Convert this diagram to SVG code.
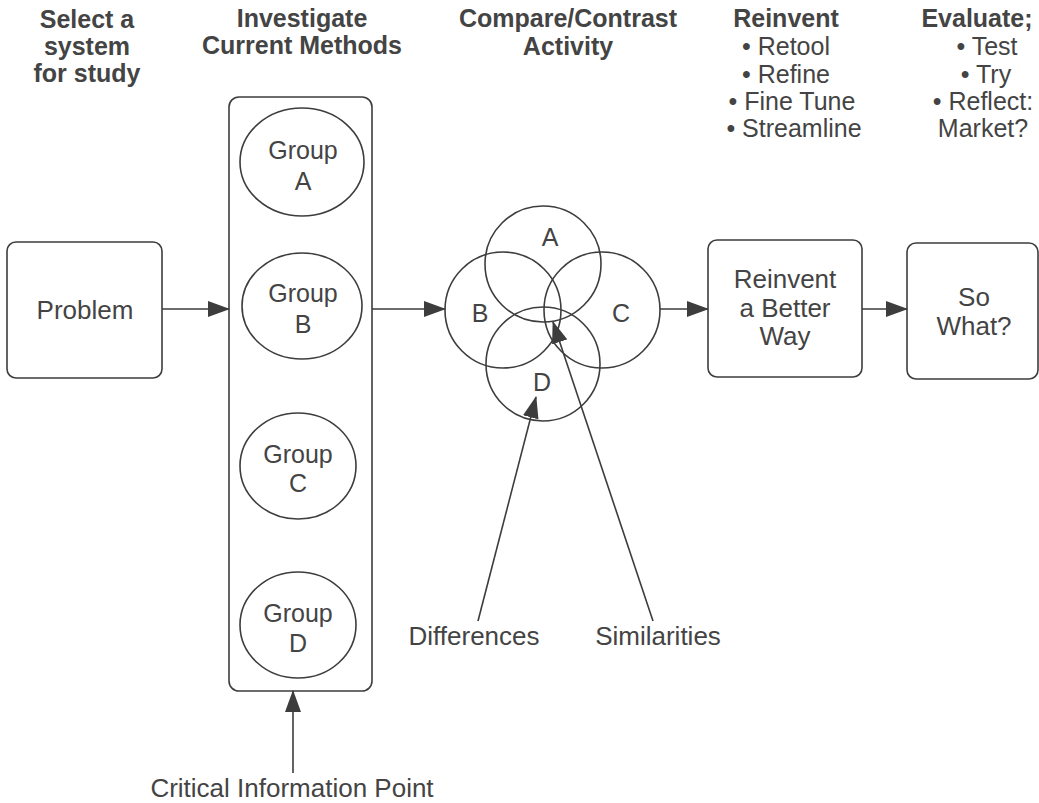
<svg xmlns="http://www.w3.org/2000/svg" width="1039" height="803" viewBox="0 0 1039 803">
<style>
.hd{font-family:"Liberation Sans",Arial,sans-serif;font-size:25px;font-weight:bold;fill:#444444;text-anchor:middle}
.ls{font-family:"Liberation Sans",Arial,sans-serif;font-size:25px;fill:#444444;text-anchor:middle}
.tx{font-family:"Liberation Sans",Arial,sans-serif;font-size:26px;fill:#444444;text-anchor:middle}
.gt{font-family:"Liberation Sans",Arial,sans-serif;font-size:25px;fill:#444444;text-anchor:middle}
.sh{fill:none;stroke:#3d3d3d;stroke-width:1.6}
.ln{fill:none;stroke:#3d3d3d;stroke-width:1.6}
</style>
<defs>
<marker id="ah" markerUnits="userSpaceOnUse" markerWidth="22" markerHeight="16" refX="21" refY="8" orient="auto">
<path d="M0,0 L22,8 L0,16 Z" fill="#3d3d3d"/>
</marker>
</defs>
<rect width="1039" height="803" fill="#ffffff"/>

<g id="headers">
<text class="hd" x="87" y="28">Select a</text>
<text class="hd" x="87" y="55">system</text>
<text class="hd" x="87" y="82">for study</text>
<text class="hd" x="302" y="27">Investigate</text>
<text class="hd" x="302" y="54">Current Methods</text>
<text class="hd" x="568" y="27">Compare/Contrast</text>
<text class="hd" x="568" y="55">Activity</text>
<text class="hd" x="786" y="27">Reinvent</text>
<text class="ls" x="786" y="55">• Retool</text>
<text class="ls" x="786" y="83">• Refine</text>
<text class="ls" x="792" y="110">• Fine Tune</text>
<text class="ls" x="794" y="137">• Streamline</text>
<text class="hd" x="977" y="27">Evaluate;</text>
<text class="ls" x="987" y="55">• Test</text>
<text class="ls" x="986" y="83">• Try</text>
<text class="ls" x="983" y="110">• Reflect:</text>
<text class="ls" x="983" y="137">Market?</text>
</g>

<g id="problem">
<rect class="sh" x="7" y="242" width="155" height="136" rx="9"/>
<text class="tx" x="85" y="319">Problem</text>
</g>

<g id="methods">
<rect class="sh" x="229" y="97" width="143" height="594" rx="10"/>
</g>
<g id="groupA">
<ellipse class="sh" cx="302" cy="162" rx="62" ry="54"/>
<text class="gt" x="303" y="159">Group</text>
<text class="gt" x="303" y="190">A</text>
</g>
<g id="groupB">
<ellipse class="sh" cx="302" cy="306" rx="60" ry="53"/>
<text class="gt" x="303" y="302">Group</text>
<text class="gt" x="303" y="333">B</text>
</g>
<g id="groupC">
<ellipse class="sh" cx="298" cy="466" rx="58" ry="53"/>
<text class="gt" x="298" y="463">Group</text>
<text class="gt" x="298" y="492">C</text>
</g>
<g id="groupD">
<ellipse class="sh" cx="298" cy="625" rx="58" ry="53"/>
<text class="gt" x="298" y="622">Group</text>
<text class="gt" x="298" y="652">D</text>
</g>

<g id="venn">
<circle class="sh" cx="543" cy="264" r="58"/>
<circle class="sh" cx="503" cy="310" r="58"/>
<circle class="sh" cx="602" cy="310" r="58"/>
<circle class="sh" cx="543" cy="364" r="57"/>
<text class="gt" x="550" y="246">A</text>
<text class="gt" x="480" y="322">B</text>
<text class="gt" x="621" y="322">C</text>
<text class="gt" x="542" y="391">D</text>
</g>

<g id="reinvent">
<rect class="sh" x="708" y="240" width="154" height="137" rx="9"/>
<text class="tx" x="785" y="288">Reinvent</text>
<text class="tx" x="785" y="317">a Better</text>
<text class="tx" x="785" y="345">Way</text>
</g>

<g id="sowhat">
<rect class="sh" x="907" y="243" width="131" height="136" rx="9"/>
<text class="tx" x="974" y="306">So</text>
<text class="tx" x="974" y="335">What?</text>
</g>

<g id="labels">
<text class="tx" x="474" y="645">Differences</text>
<text class="tx" x="658" y="645">Similarities</text>
<text class="tx" x="292" y="797">Critical Information Point</text>
</g>

<g id="connectors">
<line class="ln" x1="162" y1="309" x2="229" y2="309" marker-end="url(#ah)"/>
<line class="ln" x1="372" y1="309" x2="445" y2="309" marker-end="url(#ah)"/>
<line class="ln" x1="660" y1="309" x2="708" y2="309" marker-end="url(#ah)"/>
<line class="ln" x1="862" y1="309" x2="907" y2="309" marker-end="url(#ah)"/>
<line class="ln" x1="293" y1="773" x2="293" y2="691" marker-end="url(#ah)"/>
<line class="ln" x1="478" y1="621" x2="536" y2="397" marker-end="url(#ah)"/>
<line class="ln" x1="653" y1="621" x2="553" y2="322" marker-end="url(#ah)"/>
</g>
</svg>
